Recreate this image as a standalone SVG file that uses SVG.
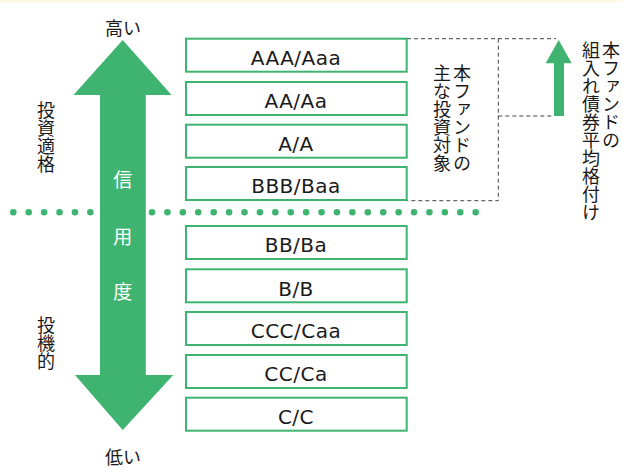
<svg xmlns="http://www.w3.org/2000/svg" width="623" height="468" viewBox="0 0 623 468">
<style>
.box{fill:#fff;stroke:#3fb471;stroke-width:2}
.lbl{font-family:"DejaVu Sans",Verdana,sans-serif;font-size:20px;fill:#1a1a1a;text-anchor:middle;letter-spacing:0.5px}
.jp{font-family:"Noto Sans CJK JP",sans-serif;font-size:18px;fill:#1a1a1a}
.vt{writing-mode:vertical-rl;text-anchor:start}
.wt{font-family:"Noto Sans CJK JP",sans-serif;font-size:19px;fill:#fff;text-anchor:middle}
.dash{fill:none;stroke:#444;stroke-width:1;stroke-dasharray:4 3}
.g{fill:#3fb471}
</style>
<rect width="623" height="468" fill="#fff"/>
<rect width="623" height="2" fill="#fdf8e4"/>
<line x1="13.3" y1="212.3" x2="475.7" y2="212.3" stroke="#3fb471" stroke-width="6.6" stroke-linecap="round" stroke-dasharray="0 15.413"/>
<g id="credit-arrow">
<polygon class="g" points="122.7,40 171.5,95 145.8,95 145.8,375 173.3,375 122.7,430 75,375 100,375 100,95 73.5,95"/>
<text class="wt" x="122.7" y="186.5">信</text>
<text class="wt" x="122.7" y="244">用</text>
<text class="wt" x="122.7" y="298.5">度</text>
</g>
<g id="label-high"><text class="jp" x="123" y="35" text-anchor="middle" font-size="18.5">高い</text></g>
<g id="label-low"><text class="jp" x="123" y="463.5" text-anchor="middle" font-size="18.5">低い</text></g>
<g id="label-investment-grade"><text class="jp vt" x="46" y="101">投資適格</text></g>
<g id="label-speculative"><text class="jp vt" x="46" y="316">投機的</text></g>
<g id="connectors">
<path class="dash" d="M407,38.7 H556 M498.3,38.7 V200.7 H407 M498.3,116 H554"/>
</g>
<g id="avg-arrow"><polygon class="g" points="558.7,40 571.7,63.3 564,63.3 564,116 554,116 554,63.3 545.7,63.3"/></g>
<g id="main-target-label">
<text class="jp vt" x="462" y="64">本ファンドの</text>
<text class="jp vt" x="442" y="64">主な投資対象</text>
</g>
<g id="avg-rating-label">
<text class="jp vt" x="611" y="41">本ファンドの</text>
<text class="jp vt" x="591" y="41">組入れ債券平均格付け</text>
</g>
<g id="r-AAA"><rect class="box" x="186" y="38.7" width="220.7" height="33"/><text class="lbl" x="296" y="65">AAA/Aaa</text></g>
<g id="r-AA"><rect class="box" x="186" y="82" width="220.7" height="33"/><text class="lbl" x="296" y="108.3">AA/Aa</text></g>
<g id="r-A"><rect class="box" x="186" y="124.7" width="220.7" height="33"/><text class="lbl" x="296" y="151">A/A</text></g>
<g id="r-BBB"><rect class="box" x="186" y="167" width="220.7" height="33"/><text class="lbl" x="296" y="193.3">BBB/Baa</text></g>
<g id="r-BB"><rect class="box" x="186" y="226" width="220.7" height="33"/><text class="lbl" x="296" y="252.3">BB/Ba</text></g>
<g id="r-B"><rect class="box" x="186" y="269.3" width="220.7" height="33"/><text class="lbl" x="296" y="295.6">B/B</text></g>
<g id="r-CCC"><rect class="box" x="186" y="312" width="220.7" height="33"/><text class="lbl" x="296" y="338.3">CCC/Caa</text></g>
<g id="r-CC"><rect class="box" x="186" y="355" width="220.7" height="33"/><text class="lbl" x="296" y="381.3">CC/Ca</text></g>
<g id="r-C"><rect class="box" x="186" y="397.7" width="220.7" height="33"/><text class="lbl" x="296" y="424">C/C</text></g>
</svg>
